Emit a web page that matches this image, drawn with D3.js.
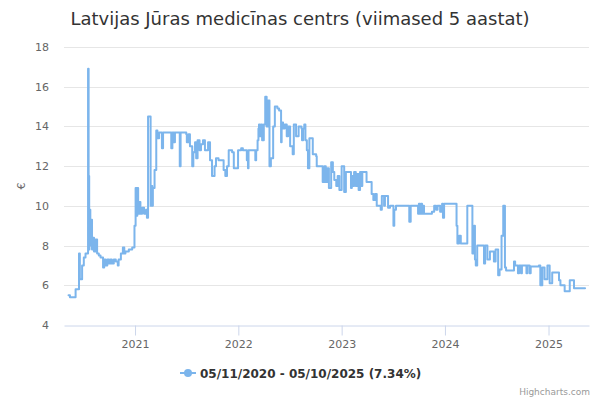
<!DOCTYPE html>
<html>
<head>
<meta charset="utf-8">
<script src="https://cdn.jsdelivr.net/npm/d3@7"></script>
<style>
  html, body { margin: 0; padding: 0; background: #fff; }
  svg { display: block; font-family: "DejaVu Sans", sans-serif; }
</style>
</head>
<body>
<svg id="chart" width="600" height="400"></svg>
<script>
// ---- data ----
const titleText = "Latvijas Jūras medicīnas centrs (viimased 5 aastat)";
const seriesName = "05/11/2020 - 05/10/2025 (7.34%)";
const yTicks = [4, 6, 8, 10, 12, 14, 16, 18];
const xTickYears = ["2021", "2022", "2023", "2024", "2025"];
const dates = [
  "2020-05-11","2020-05-16","2020-06-05","2020-06-17","2020-06-20","2020-06-28","2020-07-04","2020-07-10",
  "2020-07-19","2020-07-21","2020-07-23","2020-07-24","2020-07-27","2020-07-29","2020-08-02","2020-08-05",
  "2020-08-09","2020-08-14","2020-08-20","2020-08-26","2020-09-01","2020-09-10","2020-09-14","2020-09-19",
  "2020-09-25","2020-10-01","2020-10-06","2020-10-11","2020-10-18","2020-10-25","2020-11-01","2020-11-04",
  "2020-11-12","2020-11-19","2020-11-24","2020-11-28","2020-12-10","2020-12-22","2020-12-30",
  "2021-01-03","2021-01-06","2021-01-09","2021-01-12","2021-01-16","2021-01-20","2021-01-26","2021-02-02",
  "2021-02-09","2021-02-12","2021-02-16","2021-02-25","2021-02-28","2021-03-03","2021-03-05","2021-03-11",
  "2021-03-17","2021-03-21","2021-03-27","2021-04-06","2021-04-10","2021-05-09","2021-05-13","2021-05-19",
  "2021-05-22","2021-06-08","2021-06-11","2021-07-01","2021-07-03","2021-07-09","2021-07-14","2021-07-22",
  "2021-07-26","2021-08-01","2021-08-05","2021-08-10","2021-08-17","2021-08-22","2021-08-29","2021-09-05",
  "2021-09-16","2021-09-23","2021-09-30","2021-10-09","2021-10-14","2021-10-23","2021-11-10","2021-11-16",
  "2021-11-22","2021-11-28","2021-12-10","2021-12-16","2021-12-31",
  "2022-01-11","2022-01-17","2022-01-31","2022-02-04","2022-02-06","2022-03-02","2022-03-05","2022-03-10",
  "2022-03-13","2022-03-15","2022-03-18","2022-03-22","2022-03-26","2022-04-01","2022-04-06","2022-04-11",
  "2022-04-16","2022-04-21","2022-04-26","2022-05-04","2022-05-10","2022-05-19","2022-05-25","2022-06-01",
  "2022-06-03","2022-06-08","2022-06-14","2022-06-21","2022-06-26","2022-07-03","2022-07-12","2022-07-16",
  "2022-07-24","2022-08-02","2022-08-12","2022-08-14","2022-08-18","2022-08-22","2022-08-26","2022-08-31",
  "2022-09-04","2022-09-09","2022-09-21","2022-10-03","2022-10-05","2022-10-26","2022-11-01","2022-11-06",
  "2022-11-11","2022-11-17","2022-11-25","2022-12-01","2022-12-06","2022-12-13","2022-12-18","2022-12-24",
  "2023-01-01","2023-01-10","2023-01-16","2023-02-03","2023-02-06","2023-02-10","2023-02-14","2023-02-20",
  "2023-02-24","2023-03-02","2023-03-07","2023-03-13","2023-03-15","2023-03-30","2023-04-17","2023-04-23",
  "2023-04-29","2023-05-05","2023-05-19","2023-05-23","2023-05-31","2023-06-03","2023-06-14","2023-06-21",
  "2023-07-03","2023-07-06","2023-07-12","2023-08-28","2023-09-02","2023-09-28","2023-10-01","2023-10-05",
  "2023-10-09","2023-10-12","2023-10-16","2023-10-19","2023-11-16","2023-11-24","2023-12-01","2023-12-06",
  "2023-12-15","2023-12-22","2023-12-25","2023-12-29",
  "2024-02-11","2024-02-14","2024-02-20","2024-02-26","2024-03-20","2024-04-07","2024-04-13","2024-04-16",
  "2024-04-19","2024-04-24","2024-05-18","2024-05-22","2024-05-30","2024-06-08","2024-06-22","2024-06-28",
  "2024-07-07","2024-07-12","2024-07-19","2024-07-25","2024-07-31","2024-08-04","2024-09-01","2024-09-05",
  "2024-09-15","2024-09-19","2024-09-26","2024-09-29","2024-10-15","2024-10-18","2024-10-26","2024-10-30",
  "2024-11-28","2024-12-03","2024-12-10","2024-12-18","2024-12-28",
  "2025-01-05","2025-01-14","2025-02-07","2025-02-12","2025-02-27","2025-03-17","2025-04-01","2025-05-10"
];
const values = [
  5.5,5.4,5.8,7.6,6.3,7.0,7.4,7.6,
  16.9,11.5,7.8,9.8,8.0,9.3,7.8,8.4,
  7.7,8.3,7.6,7.5,7.4,6.9,7.3,7.0,
  7.3,7.1,7.3,7.1,7.3,7.2,7.0,7.3,
  7.6,7.9,7.6,7.7,7.8,7.9,9.0,
  10.9,9.5,10.9,9.6,10.2,9.6,9.9,9.6,
  9.8,9.4,14.5,10.0,11.0,10.0,10.9,11.8,
  13.8,13.4,13.7,12.9,13.7,12.9,13.7,13.2,
  13.7,12.0,13.7,13.6,13.2,13.6,13.0,12.0,
  12.7,13.2,12.4,13.3,12.8,13.1,13.3,12.8,
  13.2,12.3,11.5,12.0,12.4,12.3,11.8,11.5,
  12.0,12.8,12.7,11.9,12.8,
  12.9,12.8,12.3,11.9,12.8,12.3,12.8,13.3,
  13.9,14.1,13.5,14.1,13.3,14.1,15.5,14.0,
  15.3,12.0,12.4,14.0,15.0,14.9,14.8,13.2,
  14.2,13.9,14.1,13.5,14.0,13.0,12.6,14.1,
  13.5,14.0,13.9,13.3,13.9,14.1,13.3,12.8,
  11.9,13.4,12.6,12.5,12.0,11.2,12.0,11.2,
  11.9,10.9,12.2,11.7,11.3,11.0,11.5,10.8,
  12.0,10.7,11.7,10.9,11.5,11.0,11.7,11.0,
  11.6,10.8,11.7,11.0,11.7,11.2,10.6,10.3,
  10.6,10.0,9.8,10.5,10.0,10.5,9.9,10.0,
  9.0,9.8,10.0,9.2,10.0,9.6,10.1,9.6,
  10.1,9.6,10.0,9.6,9.7,10.0,9.8,10.0,
  9.7,10.1,9.4,10.1,
  9.0,8.1,8.5,8.1,10.0,7.6,9.0,7.3,
  7.0,8.0,7.1,8.0,7.3,7.7,7.2,7.8,
  6.5,6.8,8.5,10.0,6.9,6.75,7.2,7.0,
  6.6,7.0,6.6,7.0,6.6,7.0,6.6,6.95,
  7.0,6.0,6.9,6.3,7.0,
  6.1,6.65,6.25,6.0,5.7,6.25,5.85,5.85
];

// ---- drawing ----
const parse = d3.timeParse("%Y-%m-%d");
const data = dates.map((d, i) => ({ date: parse(d), value: values[i] }));

const svg = d3.select("#chart");
const plotL = 64, plotR = 589, plotT = 47, plotB = 325;

const x = d3.scaleTime()
  .domain([parse("2020-04-25"), parse("2025-05-24")])
  .range([plotL, plotR]);
const y = d3.scaleLinear().domain([4, 18]).range([plotB, plotT]);

// title
svg.append("text")
  .attr("x", 300).attr("y", 25)
  .attr("text-anchor", "middle")
  .attr("font-size", 18)
  .attr("fill", "#333333")
  .text(titleText);

// grid lines
svg.append("g").selectAll("line")
  .data(yTicks.filter(t => t !== 4))
  .join("line")
  .attr("x1", plotL).attr("x2", plotR)
  .attr("y1", d => Math.round(y(d)) + 0.5).attr("y2", d => Math.round(y(d)) + 0.5)
  .attr("stroke", "#e6e6e6").attr("stroke-width", 1);

// y axis labels
const yAxis = d3.axisLeft(y).tickValues(yTicks).tickSize(0).tickPadding(0);
const gy = svg.append("g").attr("transform", `translate(${plotL - 15},0)`).call(yAxis);
gy.select(".domain").remove();
gy.selectAll("text")
  .attr("font-size", 11).attr("fill", "#666666")
  .attr("font-family", "DejaVu Sans, sans-serif");

// y axis title
svg.append("text")
  .attr("transform", `translate(25,${(plotT + plotB) / 2}) rotate(-90)`)
  .attr("text-anchor", "middle")
  .attr("font-size", 11).attr("fill", "#666666")
  .text("€");

// x axis
const xTicks = xTickYears.map(s => parse(s + "-01-01"));
const xAxis = d3.axisBottom(x).tickValues(xTicks).tickFormat(d3.timeFormat("%Y"))
  .tickSize(10).tickSizeOuter(0).tickPadding(5);
const gx = svg.append("g").attr("transform", `translate(0,${plotB + 0.5})`).call(xAxis);
gx.select(".domain").attr("stroke", "#ccd6eb");
gx.selectAll(".tick line").attr("stroke", "#ccd6eb");
gx.selectAll("text")
  .attr("font-size", 11).attr("fill", "#666666")
  .attr("font-family", "DejaVu Sans, sans-serif");

// series line
const line = d3.line()
  .x(d => x(d.date)).y(d => y(d.value))
  .curve(d3.curveStepAfter);
svg.append("path")
  .datum(data)
  .attr("d", line)
  .attr("fill", "none")
  .attr("stroke", "#7cb5ec")
  .attr("stroke-width", 2)
  .attr("stroke-linejoin", "round")
  .attr("stroke-linecap", "round");

// legend
const lg = svg.append("g").attr("transform", "translate(0,373)");
lg.append("line").attr("x1", 180).attr("x2", 196).attr("y1", 0).attr("y2", 0)
  .attr("stroke", "#7cb5ec").attr("stroke-width", 2);
lg.append("circle").attr("cx", 188).attr("cy", 0).attr("r", 4).attr("fill", "#7cb5ec");
lg.append("text").attr("x", 200).attr("y", 4.5)
  .attr("font-size", 12).attr("font-weight", "bold").attr("fill", "#333333")
  .text(seriesName);

// credits
svg.append("text")
  .attr("x", 590).attr("y", 395)
  .attr("text-anchor", "end")
  .attr("font-size", 9).attr("fill", "#999999")
  .text("Highcharts.com");
</script>
</body>
</html>
